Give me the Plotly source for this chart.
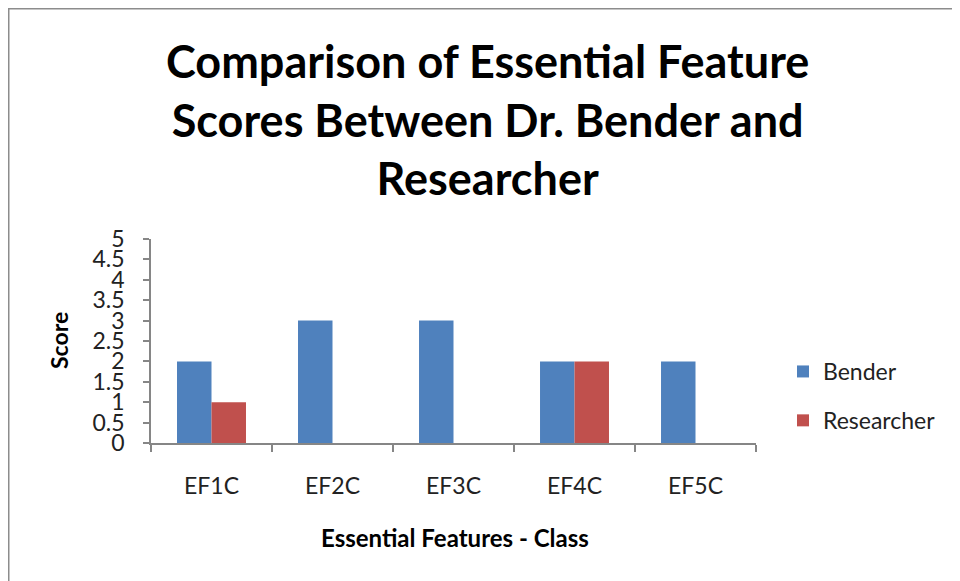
import plotly.graph_objects as go

categories = ["EF1C", "EF2C", "EF3C", "EF4C", "EF5C"]
bender = [2, 3, 3, 2, 2]
researcher = [1, 0, 0, 2, 0]
y_ticks = [0, 0.5, 1, 1.5, 2, 2.5, 3, 3.5, 4, 4.5, 5]

FONT = "Lato"
OFF = 8  # page body margin
W, H = 960 - OFF, 581 - OFF
L, R, T, B = 151 - OFF, 756 - OFF, 239 - OFF, 443 - OFF
pw, ph = R - L, B - T

def px(x):
    return (x - OFF - L) / pw

def py(y):
    return (B - (y - OFF)) / ph

fig = go.Figure()
fig.add_trace(go.Bar(x=categories, y=bender, name="Bender",
                     marker=dict(color="#4F81BD", line=dict(width=0)),
                     legendgroup="a"))
fig.add_trace(go.Bar(x=categories, y=researcher, name="Researcher",
                     marker=dict(color="#C0504D", line=dict(width=0)),
                     legendgroup="b"))

axis_col = "#868686"
fig.update_layout(
    width=W, height=H,
    margin=dict(l=L, r=W - R, t=T, b=H - B, pad=0),
    paper_bgcolor="white", plot_bgcolor="white",
    barmode="group", bargap=0.43, bargroupgap=0,
    showlegend=True,
    font=dict(family=FONT, color="#222222", size=23),
    xaxis=dict(type="category", showline=True, linecolor=axis_col, linewidth=1.5,
               ticks="outside", tickson="boundaries", ticklen=7, tickcolor=axis_col,
               tickwidth=1.5, showgrid=False, ticklabelstandoff=22,
               tickfont=dict(size=23, color="#222222")),
    yaxis=dict(range=[0, 5], tickvals=y_ticks, ticktext=[f"{v:g}" for v in y_ticks],
               showline=True, linecolor=axis_col, linewidth=1.5,
               ticks="outside", ticklen=6, tickcolor=axis_col, tickwidth=1.5,
               showgrid=False, zeroline=False, ticklabelstandoff=14,
               tickfont=dict(size=23, color="#222222")),
    legend=dict(x=px(783), y=py(396), xanchor="left", yanchor="middle",
                traceorder="grouped", tracegroupgap=16,
                font=dict(size=23, color="#222222"), bgcolor="rgba(0,0,0,0)"),
    annotations=[
        dict(text="<b>Comparison of Essential Feature<br>Scores Between Dr. Bender and<br>Researcher</b>",
             xref="paper", yref="paper", x=px(487), y=py(119), showarrow=False,
             xanchor="center", yanchor="middle",
             font=dict(family=FONT, size=45, color="black")),
        dict(text="<b>Score</b>", xref="paper", yref="paper", x=px(59), y=py(341),
             textangle=-90, showarrow=False, xanchor="center", yanchor="middle",
             font=dict(family=FONT, size=23, color="black")),
        dict(text="<b>Essential Features - Class</b>", xref="paper", yref="paper",
             x=px(455), y=py(537), showarrow=False, xanchor="center", yanchor="middle",
             font=dict(family=FONT, size=24, color="black")),
    ],
    shapes=[
        dict(type="line", xref="paper", yref="paper", x0=px(8.5), x1=px(8.5),
             y0=py(8), y1=py(600), line=dict(color="#8C8C8C", width=2)),
        dict(type="line", xref="paper", yref="paper", x0=px(8), x1=px(980),
             y0=py(8.5), y1=py(8.5), line=dict(color="#8C8C8C", width=2)),
    ],
)

fig.write_html("out.html")
